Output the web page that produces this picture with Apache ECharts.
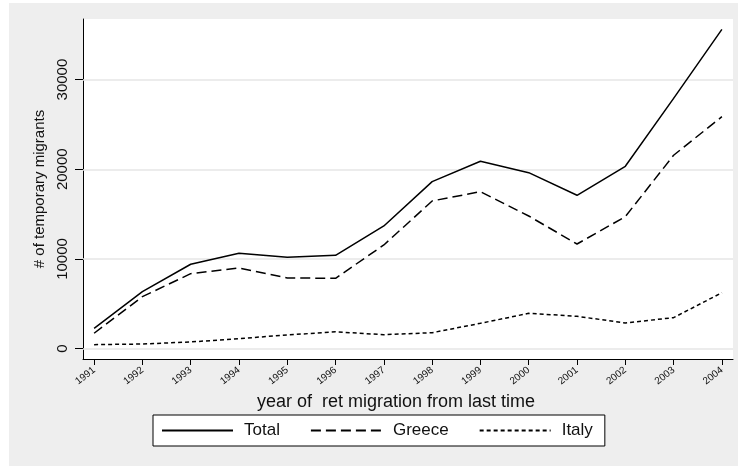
<!DOCTYPE html>
<html>
<head>
<meta charset="utf-8">
<script src="https://cdn.jsdelivr.net/npm/echarts@6/dist/echarts.min.js"></script>
<style>
html,body{margin:0;padding:0;background:#fff;}
#bg{position:absolute;left:9px;top:3px;width:729px;height:463px;background:#eeeeee;}
#chart{position:absolute;left:0;top:0;width:738px;height:466px;}
</style>
</head>
<body>
<div id="bg"></div>
<div id="chart"></div>
<script>
const years = [1991,1992,1993,1994,1995,1996,1997,1998,1999,2000,2001,2002,2003,2004];
const total = [2270,6350,9410,10630,10190,10410,13680,18620,20890,19620,17100,20330,27900,35600];
const greece = [1720,5800,8360,9000,7880,7850,11560,16470,17500,14790,11670,14720,21560,25860];
const italy = [450,520,750,1120,1530,1880,1560,1780,2830,3940,3610,2870,3460,6240];
const yTicks = [0,10000,20000,30000];

const FONT = 'Liberation Sans, Arial, sans-serif';
const pair = arr => years.map((y,i)=>[y, arr[i]]);
const plain = v => String(Math.round(v));

const chart = echarts.init(document.getElementById('chart'), null, {renderer:'canvas'});
chart.setOption({
  animation:false,
  textStyle:{fontFamily:FONT, color:'#111'},
  grid:{left:83, top:19, right:5, bottom:107, show:true, backgroundColor:'#ffffff', borderWidth:0},
  legend:{
    left:153, top:415,
    orient:'horizontal',
    backgroundColor:'#ffffff', borderColor:'#000', borderWidth:1,
    padding:[7,12,7,8],
    itemWidth:71, itemHeight:14, itemGap:30,
    itemStyle:{opacity:0, borderWidth:0},
    textStyle:{fontFamily:FONT, fontSize:17, color:'#111', padding:[0,0,0,6]},
    data:['Total','Greece','Italy']
  },
  xAxis:{
    type:'value', min:1990.77, max:2004.23,
    name:'year of  ret migration from last time', nameLocation:'middle', nameGap:30,
    nameTextStyle:{fontFamily:FONT, fontSize:18, color:'#111', padding:[0,24,0,0]},
    axisLine:{show:true, onZero:false, lineStyle:{color:'#000', width:1}},
    axisTick:{show:true, length:6, customValues:years, lineStyle:{color:'#000'}},
    axisLabel:{customValues:years, formatter:plain, rotate:38, align:'right', verticalAlign:'middle',
      fontSize:10, margin:10, color:'#111', fontFamily:FONT},
    splitLine:{show:false}
  },
  yAxis:{
    type:'value', min:-1150, max:36750,
    name:'# of temporary migrants', nameLocation:'middle', nameGap:33, nameRotate:90,
    nameTextStyle:{fontFamily:FONT, fontSize:15, color:'#111'},
    axisLine:{show:true, onZero:false, lineStyle:{color:'#000', width:1}},
    axisTick:{show:true, length:8, customValues:yTicks, lineStyle:{color:'#000'}},
    axisLabel:{customValues:yTicks, formatter:plain, rotate:90, fontSize:15, margin:13, color:'#111', fontFamily:FONT},
    splitLine:{show:false}
  },
  series:[
    {name:'Total', type:'line', data:pair(total), symbol:'none', z:3,
     lineStyle:{color:'#000', width:1.5, type:'solid'}, itemStyle:{color:'#000'},
     markLine:{silent:true, symbol:'none', z:1, label:{show:false},
       lineStyle:{color:'#e6e6e6', width:1.5, type:'solid'},
       data:yTicks.map(v=>({yAxis:v}))}},
    {name:'Greece', type:'line', data:pair(greece), symbol:'none', z:3,
     lineStyle:{color:'#000', width:1.5, type:[10,5]}, itemStyle:{color:'#000'}},
    {name:'Italy', type:'line', data:pair(italy), symbol:'none', z:3,
     lineStyle:{color:'#000', width:1.5, type:[4,3]}, itemStyle:{color:'#000'}}
  ]
});
</script>
</body>
</html>
